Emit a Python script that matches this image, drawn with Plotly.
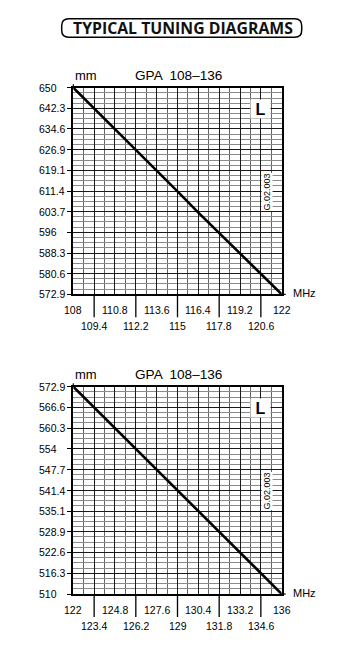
import plotly.graph_objects as go

W, H = 363, 660

# ---------------- data ----------------
top_freq = [108, 110.8, 113.6, 115, 116.4, 117.8, 119.2, 120.6, 122]
top_mm = [650, 634.6, 619.2, 611.3, 603.4, 595.8, 588.4, 580.8, 572.9]
bot_freq = [122, 124.8, 127.6, 130.4, 133.2, 136]
bot_mm = [572.9, 560.3, 547.7, 535.1, 522.5, 510]

top_xticks = ["108", "109.4", "110.8", "112.2", "113.6", "115", "116.4", "117.8", "119.2", "120.6", "122"]
top_yticks = ["650", "642.3", "634.6", "626.9", "619.1", "611.4", "603.7", "596", "588.3", "580.6", "572.9"]
bot_xticks = ["122", "123.4", "124.8", "126.2", "127.6", "129", "130.4", "131.8", "133.2", "134.6", "136"]
bot_yticks = ["572.9", "566.6", "560.3", "554", "547.7", "541.4", "535.1", "528.9", "522.6", "516.3", "510"]

title_text = "TYPICAL TUNING DIAGRAMS"
chart_title = "GPA  108\u2013136"
code_text = "G.02.003"


def px(p):
    return p / W


def py(p):
    return 1 - p / H


def subdivisions(vals, parts):
    lo, hi = min(vals), max(vals)
    n = (len(vals) - 1) * parts
    step = (hi - lo) / n
    return [lo + k * step for k in range(n + 1) if k % parts != 0]


FONT = "Liberation Sans"
fig = go.Figure()

panels = [
    dict(fx=top_freq, fy=top_mm, xt=top_xticks, yt=top_yticks, xa="x", ya="y",
         top=87.7, bot=294.3, sub=""),
    dict(fx=bot_freq, fy=bot_mm, xt=bot_xticks, yt=bot_yticks, xa="x2", ya="y2",
         top=386.7, bot=594.0, sub="2"),
]

left_px, right_px = 73.3, 281.7
annotations = []
shapes = []

for p in panels:
    xv = [float(t) for t in p["xt"]]
    yv = [float(t) for t in p["yt"]]
    fig.add_trace(go.Scatter(x=p["fx"], y=p["fy"], mode="lines",
                             line=dict(color="black", width=2.6),
                             xaxis=p["xa"], yaxis=p["ya"], showlegend=False,
                             hoverinfo="skip"))
    xmin, xmax = min(xv), max(xv)
    ymin, ymax = min(yv), max(yv)
    xaxis = dict(domain=[px(left_px), px(right_px)], range=[xmin, xmax],
                 anchor=p["ya"], tickmode="array", tickvals=xv, showticklabels=False,
                 ticks="", showgrid=True, gridcolor="#1a1a1a", gridwidth=1.2,
                 showline=True, mirror=True, linecolor="black", linewidth=1.6,
                 zeroline=False, fixedrange=True,
                 minor=dict(tickmode="array", tickvals=subdivisions(xv, 2), showgrid=True,
                            gridcolor="#666", gridwidth=1, ticks=""))
    yaxis = dict(domain=[py(p["bot"]), py(p["top"])], range=[ymin, ymax],
                 anchor=p["xa"], tickmode="array", tickvals=yv, showticklabels=False,
                 ticks="outside", ticklen=5, tickwidth=1.2, tickcolor="black",
                 showgrid=True, gridcolor="#1a1a1a", gridwidth=1.2,
                 showline=True, mirror=True, linecolor="black", linewidth=1.6,
                 zeroline=False, fixedrange=True,
                 minor=dict(tickmode="array", tickvals=subdivisions(yv, 4), showgrid=True,
                            gridcolor="#8a8a8a", gridwidth=0.9, ticks=""))
    fig.update_layout(**{"xaxis" + p["sub"]: xaxis, "yaxis" + p["sub"]: yaxis})

    # small stubs: above top-left corner and right of x axis end
    shapes.append(dict(type="line", xref="paper", yref="paper",
                       x0=px(left_px), x1=px(left_px), y0=py(p["top"]), y1=py(p["top"] - 3.5),
                       line=dict(color="black", width=1.2)))
    shapes.append(dict(type="line", xref="paper", yref="paper",
                       x0=px(right_px), x1=px(right_px + 4), y0=py(p["bot"]), y1=py(p["bot"]),
                       line=dict(color="black", width=1.2)))

    # y tick labels (left aligned)
    for t, v in zip(p["yt"], yv):
        annotations.append(dict(x=px(37), y=v, xref="paper", yref=p["ya"], text=t,
                                showarrow=False, xanchor="left", yanchor="middle",
                                font=dict(family=FONT, size=10.5, color="black")))
    # x tick labels (two rows)
    for i, (t, v) in enumerate(zip(p["xt"], xv)):
        row_y = p["bot"] + (15.5 if i % 2 == 0 else 31.8)
        annotations.append(dict(x=v, y=py(row_y), xref=p["xa"], yref="paper", text=t,
                                showarrow=False, xanchor="center", yanchor="middle",
                                font=dict(family=FONT, size=10.5, color="black")))
        if i % 2 == 1:
            shapes.append(dict(type="line", xref=p["xa"], yref="paper", x0=v, x1=v,
                               y0=py(p["bot"]), y1=py(p["bot"] + 23),
                               line=dict(color="black", width=1.3)))
    # headings
    annotations.append(dict(x=px(73.3), y=py(p["top"] - 12), xref="paper", yref="paper",
                            text="mm", showarrow=False, xanchor="left", yanchor="middle",
                            font=dict(family=FONT, size=13, color="black")))
    annotations.append(dict(x=px(132.5), y=py(p["top"] - 12.5), xref="paper", yref="paper",
                            text=chart_title, showarrow=False, xanchor="left", yanchor="middle",
                            font=dict(family=FONT, size=13.6, color="black")))
    annotations.append(dict(x=px(290.5), y=py(p["bot"] - 1.5), xref="paper", yref="paper",
                            text="MHz", showarrow=False, xanchor="left", yanchor="middle",
                            font=dict(family=FONT, size=11, color="black")))
    # L marker
    annotations.append(dict(x=px(260.8), y=py(p["top"] + 21), xref="paper", yref="paper",
                            text="<b>L</b>", showarrow=False, xanchor="center", yanchor="middle",
                            width=19, height=18, bgcolor="white", borderpad=0,
                            font=dict(family=FONT, size=16, color="black")))
    # code
    annotations.append(dict(x=px(266.8), y=py(p["top"] + 104), xref="paper", yref="paper",
                            text=code_text, showarrow=False, textangle=-90,
                            xanchor="center", yanchor="middle", bgcolor="white", borderpad=0,
                            font=dict(family=FONT, size=9, color="black")))

# title box (rounded)
x0, x1, y0, y1, r = 61.7, 301.7, 18.7, 37.3, 7
path = (f"M {x0 + r},{-y0} L {x1 - r},{-y0} Q {x1},{-y0} {x1},{-(y0 + r)} "
        f"L {x1},{-(y1 - r)} Q {x1},{-y1} {x1 - r},{-y1} L {x0 + r},{-y1} "
        f"Q {x0},{-y1} {x0},{-(y1 - r)} L {x0},{-(y0 + r)} Q {x0},{-y0} {x0 + r},{-y0} Z")
shapes.append(dict(type="path", xref="paper", yref="paper", xsizemode="pixel",
                   ysizemode="pixel", xanchor=0, yanchor=1, path=path,
                   line=dict(color="black", width=1.5)))
annotations.append(dict(x=px(182.5), y=py(28), xref="paper", yref="paper",
                        text="<b>" + title_text + "</b>", showarrow=False,
                        xanchor="center", yanchor="middle",
                        font=dict(family="Open Sans", size=15.8, color="#111")))

fig.update_layout(width=W, height=H, margin=dict(l=0, r=0, t=0, b=0),
                  paper_bgcolor="white", plot_bgcolor="white",
                  annotations=annotations, shapes=shapes, showlegend=False)

fig.write_html("out.html", config={"displayModeBar": False},
               post_script="document.body.style.margin='0';document.body.style.overflow='hidden';")
